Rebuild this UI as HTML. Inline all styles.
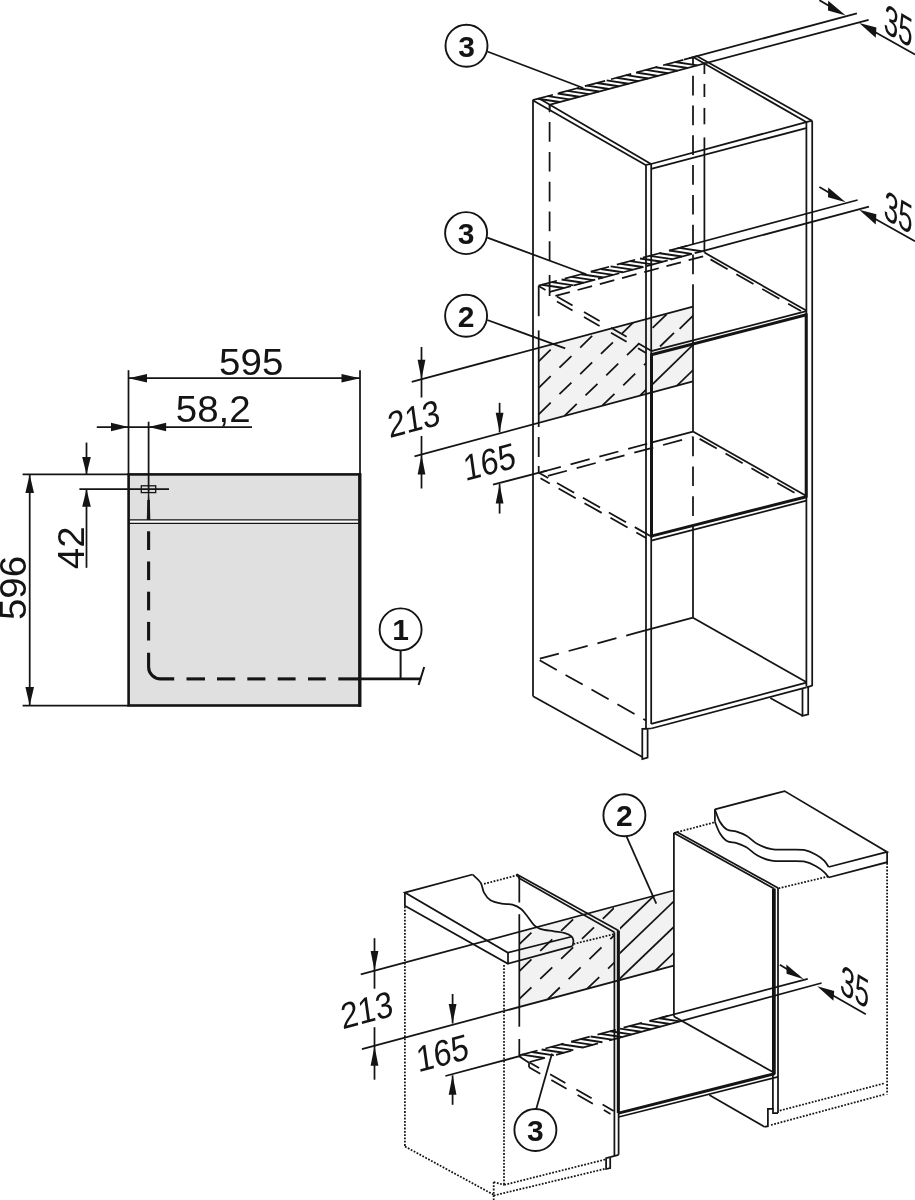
<!DOCTYPE html>
<html><head><meta charset="utf-8"><title>Installation drawing</title>
<style>
html,body{margin:0;padding:0;background:#fff}
svg{display:block;font-family:"Liberation Sans",sans-serif;will-change:transform}
</style></head><body>
<svg width="915" height="1200" viewBox="0 0 915 1200" fill="none" stroke="#141414" stroke-width="1.75">
<rect x="0" y="0" width="915" height="1200" fill="#fff" stroke="none"/>
<rect x="128.6" y="474.4" width="231.4" height="231.1" fill="#e0e0e0" stroke="none"/>
<rect x="128.6" y="520.2" width="231.4" height="2.8" fill="#fff" stroke="none"/>
<line x1="128.6" y1="519.9" x2="360" y2="519.9" stroke-width="1.3"/>
<line x1="128.6" y1="523.3" x2="360" y2="523.3" stroke-width="1.3"/>
<rect x="128.6" y="474.4" width="231.4" height="231.1" fill="none" stroke-width="2.6"/>
<line x1="359.7" y1="473.1" x2="359.7" y2="706.8" stroke-width="3.1"/>
<line x1="128.5" y1="370.2" x2="128.5" y2="474.4" stroke-width="1.75"/>
<line x1="360" y1="370.2" x2="360" y2="474.4" stroke-width="1.75"/>
<line x1="128.5" y1="378.2" x2="360" y2="378.2" stroke-width="1.75"/>
<polygon points="128.5,378.2 147,373.9 147,382.5" fill="#141414" stroke="none"/>
<polygon points="360,378.2 341.5,382.5 341.5,373.9" fill="#141414" stroke="none"/>
<line x1="96.8" y1="427" x2="128.5" y2="427" stroke-width="1.75"/>
<polygon points="128.5,427 111,431.3 111,422.7" fill="#141414" stroke="none"/>
<line x1="128.5" y1="427" x2="252" y2="427" stroke-width="1.75"/>
<polygon points="148.6,427 166.1,422.7 166.1,431.3" fill="#141414" stroke="none"/>
<line x1="148.6" y1="421.7" x2="148.6" y2="493" stroke-width="1.75"/>
<line x1="86.5" y1="442.6" x2="86.5" y2="474.4" stroke-width="1.75"/>
<polygon points="86.5,474.4 82.2,456.9 90.8,456.9" fill="#141414" stroke="none"/>
<line x1="86.5" y1="489.2" x2="86.5" y2="567.8" stroke-width="1.75"/>
<polygon points="86.5,489.2 90.8,506.7 82.2,506.7" fill="#141414" stroke="none"/>
<line x1="22.6" y1="474.4" x2="128.6" y2="474.4" stroke-width="1.75"/>
<line x1="79.4" y1="489.2" x2="169" y2="489.2" stroke-width="1.75"/>
<line x1="29.7" y1="474.4" x2="29.7" y2="705.5" stroke-width="1.75"/>
<polygon points="29.7,474.4 34,492.9 25.4,492.9" fill="#141414" stroke="none"/>
<polygon points="29.7,705.5 25.4,687 34,687" fill="#141414" stroke="none"/>
<line x1="22.6" y1="705.5" x2="128.6" y2="705.5" stroke-width="1.75"/>
<rect x="141.3" y="485.8" width="14.4" height="6.8" fill="none" stroke-width="1.3"/>
<path d="M148.3 493 L147.2 519.5 L150 519.5 L148.9 493Z" fill="#141414" stroke-width="0.6"/>
<line x1="148.6" y1="500" x2="148.6" y2="519.6" stroke-width="2.6"/>
<line x1="148.6" y1="531.3" x2="148.6" y2="550" stroke-width="3.1"/>
<line x1="148.6" y1="561.5" x2="148.6" y2="580.1" stroke-width="3.1"/>
<line x1="148.6" y1="591.7" x2="148.6" y2="610.3" stroke-width="3.1"/>
<line x1="148.6" y1="621.9" x2="148.6" y2="640.5" stroke-width="3.1"/>
<path d="M148.6 652.7 V666.9 A12 12 0 0 0 160.6 678.9 H174.2" fill="none" stroke-width="3.1"/>
<line x1="186.5" y1="678.9" x2="205" y2="678.9" stroke-width="3.1"/>
<line x1="217" y1="678.9" x2="235.2" y2="678.9" stroke-width="3.1"/>
<line x1="247.3" y1="678.9" x2="265.4" y2="678.9" stroke-width="3.1"/>
<line x1="277.7" y1="678.9" x2="295.6" y2="678.9" stroke-width="3.1"/>
<line x1="308" y1="678.9" x2="325.8" y2="678.9" stroke-width="3.1"/>
<line x1="338.3" y1="678.9" x2="360" y2="678.9" stroke-width="3.1"/>
<line x1="360" y1="678.9" x2="421.2" y2="678.9" stroke-width="2.6"/>
<line x1="418.6" y1="685" x2="424.2" y2="667" stroke-width="2"/>
<line x1="400.6" y1="650" x2="400.6" y2="678.9" stroke-width="2"/>
<circle cx="400.6" cy="629.4" r="21" fill="#fff" stroke-width="1.9"/>
<text x="400.6" y="640.3" font-size="30" font-weight="bold" text-anchor="middle" stroke="none" fill="#141414">1</text>
<text transform="translate(251.2 375) scale(1.055 1)" font-size="36.5" text-anchor="middle" stroke="none" fill="#141414">595</text>
<text transform="translate(213.2 421.8) scale(1.055 1)" font-size="36.5" text-anchor="middle" stroke="none" fill="#141414">58,2</text>
<text transform="translate(84 547.8) rotate(-90) scale(1.055 1)" font-size="36.5" text-anchor="middle" stroke="none" fill="#141414">42</text>
<text transform="translate(25.6 588) rotate(-90) scale(1.055 1)" font-size="36.5" text-anchor="middle" stroke="none" fill="#141414">596</text>
<polygon points="538.7,348.3 693,306.6 693,381.2 538.7,422.5" fill="#f2f2f2" stroke="none"/>
<clipPath id="c1"><polygon points="538.7,348.3 646,319.6 646,393.8 538.7,422.5"/></clipPath>
<g clip-path="url(#c1)">
<line x1="538.7" y1="361.3" x2="696.61" y2="208.12" stroke-width="1.75" stroke-dasharray="16.7 12.2"/>
<line x1="538.7" y1="387.8" x2="696.61" y2="234.62" stroke-width="1.75" stroke-dasharray="16.7 12.2"/>
<line x1="538.7" y1="414.3" x2="696.61" y2="261.12" stroke-width="1.75" stroke-dasharray="16.7 12.2"/>
<line x1="564.76" y1="415.53" x2="722.67" y2="262.35" stroke-width="1.75" stroke-dasharray="16.7 12.2"/>
<line x1="602.49" y1="405.43" x2="760.4" y2="252.25" stroke-width="1.75" stroke-dasharray="16.7 12.2"/>
<line x1="640.22" y1="395.33" x2="798.13" y2="242.15" stroke-width="1.75" stroke-dasharray="16.7 12.2"/>
<line x1="677.95" y1="385.23" x2="835.86" y2="232.05" stroke-width="1.75" stroke-dasharray="16.7 12.2"/>
</g>
<clipPath id="c2"><polygon points="651,318.3 693,306.6 693,343.4 651,354.6"/></clipPath>
<g clip-path="url(#c2)">
<line x1="652.6" y1="327.9" x2="666.6" y2="314.32" stroke-width="1.75"/>
<line x1="660" y1="346.5" x2="674" y2="332.92" stroke-width="1.75"/>
<line x1="679.6" y1="328.8" x2="693.6" y2="315.22" stroke-width="1.75"/>
</g>
<clipPath id="c3"><polygon points="652,356 693,345 693,381.2 652,392.2"/></clipPath>
<g clip-path="url(#c3)">
<line x1="640" y1="396.3" x2="726.14" y2="312.75" stroke-width="1.75"/>
<line x1="666" y1="396.3" x2="752.14" y2="312.75" stroke-width="1.75"/>
</g>
<line x1="411.7" y1="381.8" x2="693" y2="306.6" stroke-width="1.75"/>
<line x1="414.5" y1="456.3" x2="693" y2="381.4" stroke-width="1.75"/>
<line x1="493" y1="484.6" x2="547" y2="470.7" stroke-width="1.75"/>
<line x1="421.5" y1="347" x2="421.5" y2="397.5" stroke-width="1.75"/>
<line x1="421.5" y1="436" x2="421.5" y2="488.5" stroke-width="1.75"/>
<polygon points="421.5,379.3 417.6,359.8 425.4,359.8" fill="#141414" stroke="none"/>
<polygon points="421.5,455 425.4,474.5 417.6,474.5" fill="#141414" stroke="none"/>
<line x1="499.6" y1="402.8" x2="499.6" y2="432.3" stroke-width="1.75"/>
<line x1="499.6" y1="484.1" x2="499.6" y2="513.6" stroke-width="1.75"/>
<polygon points="499.6,432.3 495.7,412.8 503.5,412.8" fill="#141414" stroke="none"/>
<polygon points="499.6,484.1 503.5,503.6 495.7,503.6" fill="#141414" stroke="none"/>
<text transform="matrix(0.875 -0.2345 0.143 1.02 389.5 438.2)" font-size="35.5" text-anchor="start" stroke="none" fill="#141414">213</text>
<text transform="matrix(0.875 -0.2345 0.143 1.02 465.2 481.2)" font-size="35.5" text-anchor="start" stroke="none" fill="#141414">165</text>
<line x1="533" y1="100.2" x2="533" y2="696.3" stroke-width="1.75"/>
<line x1="549.6" y1="122.1" x2="549.6" y2="263" stroke-width="1.75" stroke-dasharray="19.7 10.1"/>
<line x1="549.6" y1="275" x2="549.6" y2="296" stroke-width="1.75"/>
<path d="M549 104.6 L550.4 104.6 L550 112 L549.2 112Z" fill="#141414" stroke-width="0.8"/>
<line x1="538.7" y1="285.7" x2="538.7" y2="316.2" stroke-width="1.75"/>
<line x1="538.7" y1="330.4" x2="538.7" y2="427" stroke-width="1.75"/>
<line x1="538.7" y1="437" x2="538.7" y2="457" stroke-width="1.75"/>
<line x1="538.7" y1="466" x2="538.7" y2="472.8" stroke-width="1.75"/>
<line x1="646" y1="165" x2="646" y2="728.9" stroke-width="1.75"/>
<line x1="651.2" y1="164" x2="651.2" y2="724" stroke-width="1.75"/>
<line x1="651.5" y1="353.4" x2="651.5" y2="537.4" stroke-width="3"/>
<line x1="693" y1="57.5" x2="693" y2="289" stroke-width="1.75" stroke-dasharray="19.7 10.1" stroke-dashoffset="11.6"/>
<line x1="693" y1="289" x2="693" y2="431.6" stroke-width="1.75"/>
<line x1="693" y1="431.6" x2="693" y2="525.4" stroke-width="1.75" stroke-dasharray="19.7 10.1" stroke-dashoffset="-5"/>
<line x1="693" y1="525.4" x2="693" y2="617.7" stroke-width="1.75"/>
<line x1="704.4" y1="62.5" x2="704.4" y2="74" stroke-width="1.75"/>
<line x1="704.4" y1="83.9" x2="704.4" y2="97" stroke-width="1.75"/>
<line x1="704.4" y1="107.9" x2="704.4" y2="124.3" stroke-width="1.75"/>
<line x1="704.4" y1="137.4" x2="704.4" y2="252.6" stroke-width="1.75"/>
<line x1="806.4" y1="122.1" x2="806.4" y2="686.4" stroke-width="1.75"/>
<line x1="806.2" y1="313.4" x2="806.2" y2="497.6" stroke-width="3"/>
<line x1="812.2" y1="120.7" x2="812.2" y2="686" stroke-width="1.75"/>
<line x1="532.7" y1="100.2" x2="645.6" y2="165" stroke-width="1.75"/>
<line x1="539.2" y1="98.6" x2="651" y2="164" stroke-width="1.75"/>
<line x1="645.4" y1="165" x2="651.4" y2="163.9" stroke-width="1.75"/>
<line x1="651" y1="164" x2="806.2" y2="122.1" stroke-width="1.75"/>
<line x1="651.2" y1="168.9" x2="806.2" y2="128.1" stroke-width="1.75"/>
<line x1="697.2" y1="56.2" x2="812" y2="120.7" stroke-width="1.75"/>
<line x1="693.9" y1="57.4" x2="806.2" y2="122.1" stroke-width="1.75"/>
<line x1="806" y1="122.2" x2="812.3" y2="120.6" stroke-width="1.75"/>
<line x1="532.7" y1="100.2" x2="697.2" y2="56.11" stroke-width="1.75" stroke-dasharray="21 6"/>
<line x1="684" y1="59.64" x2="856.9" y2="13.3" stroke-width="1.75"/>
<line x1="550.1" y1="104.6" x2="868.6" y2="19.8" stroke-width="1.75"/>
<line x1="538" y1="98.78" x2="559.72" y2="102.04" stroke-width="1.9"/>
<line x1="547.8" y1="96.15" x2="569.57" y2="99.42" stroke-width="1.9"/>
<line x1="557.6" y1="93.53" x2="579.41" y2="96.8" stroke-width="1.9"/>
<line x1="567.4" y1="90.9" x2="589.25" y2="94.18" stroke-width="1.9"/>
<line x1="577.2" y1="88.27" x2="599.09" y2="91.56" stroke-width="1.9"/>
<line x1="587" y1="85.65" x2="608.93" y2="88.94" stroke-width="1.9"/>
<line x1="596.8" y1="83.02" x2="618.78" y2="86.31" stroke-width="1.9"/>
<line x1="606.6" y1="80.39" x2="628.62" y2="83.69" stroke-width="1.9"/>
<line x1="616.4" y1="77.76" x2="638.46" y2="81.07" stroke-width="1.9"/>
<line x1="626.2" y1="75.14" x2="648.3" y2="78.45" stroke-width="1.9"/>
<line x1="636" y1="72.51" x2="658.15" y2="75.83" stroke-width="1.9"/>
<line x1="645.8" y1="69.88" x2="667.99" y2="73.21" stroke-width="1.9"/>
<line x1="655.6" y1="67.26" x2="677.83" y2="70.59" stroke-width="1.9"/>
<line x1="665.4" y1="64.63" x2="687.67" y2="67.97" stroke-width="1.9"/>
<line x1="675.2" y1="62" x2="697.52" y2="65.35" stroke-width="1.9"/>
<line x1="819.4" y1="0.2" x2="840" y2="12.2" stroke-width="1.75"/>
<polygon points="845.7,15.6 828.2,0.8 828,10.6" fill="#141414" stroke="none"/>
<line x1="870" y1="29.3" x2="915" y2="54.6" stroke-width="1.75"/>
<polygon points="859.2,23.1 876.4,27.6 875.7,37.7" fill="#141414" stroke="none"/>
<text transform="matrix(0.73 0.43 -0.07 1.16 883.2 31.4)" font-size="35.5" text-anchor="start" stroke="none" fill="#141414">35</text>
<line x1="819.4" y1="186.9" x2="840" y2="198.9" stroke-width="1.75"/>
<polygon points="845.7,202.3 828.2,187.5 828,197.3" fill="#141414" stroke="none"/>
<line x1="870" y1="216" x2="915" y2="241.3" stroke-width="1.75"/>
<polygon points="859.2,209.8 876.4,214.3 875.7,224.4" fill="#141414" stroke="none"/>
<text transform="matrix(0.73 0.43 -0.07 1.16 883.2 218.1)" font-size="35.5" text-anchor="start" stroke="none" fill="#141414">35</text>
<line x1="538.6" y1="285.7" x2="692.5" y2="244.35" stroke-width="1.75" stroke-dasharray="19 8"/>
<line x1="677" y1="248.52" x2="857.6" y2="200" stroke-width="1.75"/>
<line x1="549.8" y1="291.8" x2="704.5" y2="250.56" stroke-width="1.75" stroke-dasharray="22 3"/>
<line x1="704.5" y1="250.56" x2="869" y2="206.7" stroke-width="1.75"/>
<line x1="551.5" y1="297" x2="704.5" y2="255.96" stroke-width="1.75" stroke-dasharray="15 8" stroke-dashoffset="-4"/>
<line x1="542" y1="284.79" x2="563.83" y2="288.06" stroke-width="1.9"/>
<line x1="551.8" y1="282.15" x2="573.67" y2="285.43" stroke-width="1.9"/>
<line x1="561.6" y1="279.52" x2="583.52" y2="282.81" stroke-width="1.9"/>
<line x1="571.4" y1="276.89" x2="593.37" y2="280.18" stroke-width="1.9"/>
<line x1="581.2" y1="274.26" x2="603.22" y2="277.56" stroke-width="1.9"/>
<line x1="591" y1="271.62" x2="613.07" y2="274.93" stroke-width="1.9"/>
<line x1="600.8" y1="268.99" x2="622.92" y2="272.31" stroke-width="1.9"/>
<line x1="610.6" y1="266.36" x2="632.76" y2="269.68" stroke-width="1.9"/>
<line x1="620.4" y1="263.72" x2="642.61" y2="267.06" stroke-width="1.9"/>
<line x1="630.2" y1="261.09" x2="652.46" y2="264.43" stroke-width="1.9"/>
<line x1="640" y1="258.46" x2="662.31" y2="261.8" stroke-width="1.9"/>
<line x1="649.8" y1="255.83" x2="672.16" y2="259.18" stroke-width="1.9"/>
<line x1="659.6" y1="253.19" x2="682" y2="256.55" stroke-width="1.9"/>
<line x1="669.4" y1="250.56" x2="691.85" y2="253.93" stroke-width="1.9"/>
<line x1="679.2" y1="247.93" x2="701.7" y2="251.3" stroke-width="1.9"/>
<line x1="538.6" y1="285.9" x2="651.2" y2="350.8" stroke-width="1.75" stroke-dasharray="18 13.2" stroke-dashoffset="10"/>
<line x1="549.8" y1="297.4" x2="646" y2="352.9" stroke-width="1.75" stroke-dasharray="18 13.2" stroke-dashoffset="22.95"/>
<line x1="704.5" y1="252.6" x2="806.2" y2="310.6" stroke-width="1.75"/>
<line x1="707" y1="257.4" x2="801" y2="311" stroke-width="1.75" stroke-dasharray="19.7 10.1" stroke-dashoffset="-4"/>
<line x1="651.2" y1="351.1" x2="806.4" y2="311.2" stroke-width="1.75"/>
<line x1="651.2" y1="354.8" x2="806.4" y2="314.8" stroke-width="3"/>
<line x1="538.9" y1="472.8" x2="651.2" y2="442.7" stroke-width="1.75" stroke-dasharray="19.7 10.1" stroke-dashoffset="-3"/>
<line x1="651.2" y1="442.7" x2="693" y2="431.6" stroke-width="1.75"/>
<line x1="545" y1="476.6" x2="692.5" y2="437.1" stroke-width="1.75" stroke-dasharray="19.7 10.1" stroke-dashoffset="-3"/>
<line x1="538.9" y1="472.8" x2="650.8" y2="536.2" stroke-width="1.75" stroke-dasharray="19.7 10.1" stroke-dashoffset="9"/>
<line x1="540.5" y1="478.2" x2="646" y2="538" stroke-width="1.75" stroke-dasharray="19.7 10.1" stroke-dashoffset="9"/>
<line x1="693" y1="431.6" x2="806.4" y2="495.9" stroke-width="1.75"/>
<line x1="697" y1="437.4" x2="801" y2="496.4" stroke-width="1.75" stroke-dasharray="19.7 10.1" stroke-dashoffset="-3"/>
<line x1="651.2" y1="536.1" x2="806.4" y2="496.7" stroke-width="3"/>
<line x1="651.2" y1="540.6" x2="806.4" y2="500.7" stroke-width="1.75"/>
<line x1="537.9" y1="659.2" x2="637" y2="632.7" stroke-width="1.75" stroke-dasharray="19.7 10.1" stroke-dashoffset="-2"/>
<line x1="637" y1="632.7" x2="693" y2="617.7" stroke-width="1.75"/>
<line x1="537.9" y1="659.2" x2="646" y2="720.5" stroke-width="1.75" stroke-dasharray="19.7 10.1" stroke-dashoffset="-2"/>
<line x1="693" y1="617.7" x2="806.2" y2="682" stroke-width="1.75"/>
<line x1="651.2" y1="723.8" x2="806.4" y2="682.6" stroke-width="1.75"/>
<line x1="651.2" y1="728.5" x2="806.4" y2="687.3" stroke-width="1.75"/>
<line x1="806.4" y1="687.3" x2="812.2" y2="685.7" stroke-width="1.75"/>
<line x1="533" y1="696.3" x2="642.3" y2="757" stroke-width="1.75"/>
<path d="M651.2 728.5 L642.3 728.9 L642.3 759.1 L647.6 757.6 L647.6 728.9" fill="none" stroke-width="1.75"/>
<path d="M802.5 688.6 L802.5 715.8 L808.2 714.4 L808.2 686.8" fill="none" stroke-width="1.75"/>
<line x1="770.3" y1="697.9" x2="802.5" y2="715.8" stroke-width="1.75"/>
<line x1="487.3" y1="51.5" x2="583.3" y2="88" stroke-width="1.75"/>
<line x1="487.3" y1="237.6" x2="586.3" y2="274.2" stroke-width="1.75"/>
<line x1="487.3" y1="320" x2="565.2" y2="348.4" stroke-width="1.75"/>
<circle cx="466.5" cy="45.8" r="21" fill="#fff" stroke-width="1.9"/>
<text x="466.5" y="56.7" font-size="30" font-weight="bold" text-anchor="middle" stroke="none" fill="#141414">3</text>
<circle cx="466.1" cy="233.1" r="21" fill="#fff" stroke-width="1.9"/>
<text x="466.1" y="244" font-size="30" font-weight="bold" text-anchor="middle" stroke="none" fill="#141414">3</text>
<circle cx="466.1" cy="315.7" r="21" fill="#fff" stroke-width="1.9"/>
<text x="466.1" y="326.6" font-size="30" font-weight="bold" text-anchor="middle" stroke="none" fill="#141414">2</text>
<polygon points="519.4,931.7 673.8,890.4 673.8,965.6 519.4,1006.6" fill="#f2f2f2" stroke="none"/>
<clipPath id="c4"><polygon points="519.4,931.7 614,906.4 614,981.5 519.4,1006.6"/></clipPath>
<g clip-path="url(#c4)">
<line x1="519.4" y1="944.1" x2="678.11" y2="791.74" stroke-width="1.75" stroke-dasharray="16.7 12.2"/>
<line x1="519.4" y1="971" x2="678.11" y2="818.64" stroke-width="1.75" stroke-dasharray="16.7 12.2"/>
<line x1="519.4" y1="998.9" x2="678.11" y2="846.54" stroke-width="1.75" stroke-dasharray="16.7 12.2"/>
<line x1="547.77" y1="999.07" x2="706.47" y2="846.71" stroke-width="1.75" stroke-dasharray="16.7 12.2"/>
<line x1="587.22" y1="988.59" x2="745.93" y2="836.23" stroke-width="1.75" stroke-dasharray="16.7 12.2"/>
</g>
<clipPath id="c5"><polygon points="620,904.8 673.8,890.4 673.8,965.6 620,979.9"/></clipPath>
<g clip-path="url(#c5)">
<line x1="601.1" y1="946.6" x2="745.38" y2="808.09" stroke-width="1.75"/>
<line x1="601.1" y1="971.1" x2="745.38" y2="832.59" stroke-width="1.75"/>
<line x1="601.1" y1="996.7" x2="745.38" y2="858.19" stroke-width="1.75"/>
<line x1="601.1" y1="1022.6" x2="745.38" y2="884.09" stroke-width="1.75"/>
</g>
<line x1="360.8" y1="974.4" x2="673.8" y2="890.5" stroke-width="1.75"/>
<line x1="361.9" y1="1049.1" x2="673.8" y2="965.6" stroke-width="1.75"/>
<line x1="445.4" y1="1076" x2="521.4" y2="1055.7" stroke-width="1.75"/>
<line x1="374.5" y1="938.2" x2="374.5" y2="988.7" stroke-width="1.75"/>
<line x1="374.5" y1="1027.2" x2="374.5" y2="1079.7" stroke-width="1.75"/>
<polygon points="374.5,970.5 370.6,951 378.4,951" fill="#141414" stroke="none"/>
<polygon points="374.5,1046.2 378.4,1065.7 370.6,1065.7" fill="#141414" stroke="none"/>
<line x1="452.6" y1="994" x2="452.6" y2="1023.5" stroke-width="1.75"/>
<line x1="452.6" y1="1075.3" x2="452.6" y2="1104.8" stroke-width="1.75"/>
<polygon points="452.6,1023.5 448.7,1004 456.5,1004" fill="#141414" stroke="none"/>
<polygon points="452.6,1075.3 456.5,1094.8 448.7,1094.8" fill="#141414" stroke="none"/>
<text transform="matrix(0.875 -0.2345 0.143 1.02 342.5 1029.4)" font-size="35.5" text-anchor="start" stroke="none" fill="#141414">213</text>
<text transform="matrix(0.875 -0.2345 0.143 1.02 418.2 1072.4)" font-size="35.5" text-anchor="start" stroke="none" fill="#141414">165</text>
<line x1="404.9" y1="906.5" x2="404.9" y2="1146.5" stroke-width="1.75" stroke-dasharray="1.8 1.5"/>
<line x1="504" y1="965" x2="504" y2="1184.9" stroke-width="1.75" stroke-dasharray="1.8 1.5"/>
<line x1="484" y1="883.9" x2="517" y2="875.3" stroke-width="1.75" stroke-dasharray="1.8 1.5"/>
<line x1="573.5" y1="944" x2="613.7" y2="934.2" stroke-width="1.75" stroke-dasharray="1.8 1.5"/>
<line x1="405" y1="1146.5" x2="493.7" y2="1194.8" stroke-width="1.75" stroke-dasharray="1.8 1.5"/>
<line x1="493.7" y1="1182" x2="493.7" y2="1200" stroke-width="1.75" stroke-dasharray="1.8 1.5"/>
<line x1="493.7" y1="1182" x2="504.2" y2="1184.9" stroke-width="1.75" stroke-dasharray="1.8 1.5"/>
<line x1="504.2" y1="1184.9" x2="606" y2="1159.3" stroke-width="1.75" stroke-dasharray="1.8 1.5"/>
<line x1="493.7" y1="1195.5" x2="606" y2="1168.6" stroke-width="1.75" stroke-dasharray="1.8 1.5"/>
<path d="M472.6 874.5 C473.95 875.88 478.8 879.78 480.7 882.8 C482.6 885.82 482.37 889.68 484 892.6 C485.63 895.52 487.58 898.47 490.5 900.3 C493.42 902.13 497.85 902.88 501.5 903.6 C505.15 904.32 509.13 903.7 512.4 904.6 C515.67 905.5 518.55 906.98 521.1 909 C523.65 911.02 525.5 913.97 527.7 916.7 C529.9 919.43 532.12 923.33 534.3 925.4 C536.48 927.47 537.53 928.12 540.8 929.1 C544.07 930.08 549.88 930.63 553.9 931.3 C557.92 931.97 561.98 932.27 564.9 933.1 C567.82 933.93 569.98 935.03 571.4 936.3 C572.82 937.57 573.22 939.05 573.4 940.7 C573.58 942.35 572.65 945.28 572.5 946.2" fill="none" stroke-width="1.75"/>
<path d="M472.6 874.5 L404.9 892.6 L508 952.7 L572.3 936.5" fill="none" stroke-width="1.75"/>
<path d="M404.9 892.6 L404.9 905.7 L508 963.7 L572.5 946.2" fill="none" stroke-width="1.75"/>
<line x1="508" y1="952.7" x2="508" y2="963.7" stroke-width="1.75"/>
<line x1="516.6" y1="874.2" x2="618.4" y2="930.6" stroke-width="1.75"/>
<line x1="519.3" y1="878.3" x2="614.4" y2="932.3" stroke-width="1.75"/>
<line x1="516.6" y1="874.2" x2="519.3" y2="878.3" stroke-width="1.75"/>
<line x1="519.3" y1="876.5" x2="519.3" y2="902.5" stroke-width="1.75"/>
<line x1="519.3" y1="914.2" x2="519.3" y2="1026.7" stroke-width="1.75"/>
<line x1="614.4" y1="932.3" x2="614.4" y2="1155.9" stroke-width="1.75"/>
<line x1="618.6" y1="930.6" x2="618.6" y2="1154.8" stroke-width="1.75"/>
<line x1="618.3" y1="930.6" x2="618.3" y2="1113" stroke-width="3"/>
<path d="M618.6 1154.8 L606.1 1158.2 L606.1 1169 L610.2 1168 L610.2 1157.2" fill="none" stroke-width="1.75"/>
<line x1="673.9" y1="833" x2="673.9" y2="1016.4" stroke-width="1.75"/>
<line x1="673.9" y1="833" x2="774.3" y2="888.7" stroke-width="1.75"/>
<line x1="677.3" y1="832.2" x2="778" y2="887.9" stroke-width="1.75"/>
<line x1="673.9" y1="833" x2="677.3" y2="832.2" stroke-width="1.75"/>
<line x1="772.9" y1="888.9" x2="772.9" y2="1108.9" stroke-width="1.75"/>
<line x1="778" y1="888" x2="778" y2="1113" stroke-width="1.75"/>
<line x1="773.9" y1="888.6" x2="773.9" y2="1074" stroke-width="3.7"/>
<line x1="673.9" y1="833" x2="714.3" y2="822.4" stroke-width="1.75" stroke-dasharray="1.8 1.5"/>
<line x1="778.5" y1="888.3" x2="828.6" y2="876.4" stroke-width="1.75" stroke-dasharray="1.8 1.5"/>
<line x1="887.1" y1="863" x2="887.1" y2="1094.4" stroke-width="1.75" stroke-dasharray="1.8 1.5"/>
<line x1="779.8" y1="1110.6" x2="884.4" y2="1083.3" stroke-width="1.75" stroke-dasharray="1.8 1.5"/>
<line x1="771" y1="1125" x2="884.4" y2="1094.4" stroke-width="1.75" stroke-dasharray="1.8 1.5"/>
<path d="M714.9 809.3 C715.73 811.38 717.9 818.42 719.9 821.8 C721.9 825.18 724.12 827.97 726.9 829.6 C729.68 831.23 733.35 830.58 736.6 831.6 C739.85 832.62 742.92 833.62 746.4 835.7 C749.88 837.78 753.32 841.87 757.5 844.1 C761.68 846.33 766.38 848.17 771.5 849.1 C776.62 850.03 782.63 849.52 788.2 849.7 C793.77 849.88 800.25 849.37 804.9 850.2 C809.55 851.03 812.85 852.93 816.1 854.7 C819.35 856.47 822.32 858.75 824.4 860.8 C826.48 862.85 827.9 865.97 828.6 867" fill="none" stroke-width="1.75"/>
<path d="M714.9 821.8 C715.73 823.72 717.9 830.08 719.9 833.3 C721.9 836.52 724.12 839.47 726.9 841.1 C729.68 842.73 733.35 842.08 736.6 843.1 C739.85 844.12 742.92 845.12 746.4 847.2 C749.88 849.28 753.32 853.37 757.5 855.6 C761.68 857.83 766.38 859.67 771.5 860.6 C776.62 861.53 782.63 861.02 788.2 861.2 C793.77 861.38 800.25 860.87 804.9 861.7 C809.55 862.53 812.85 864.43 816.1 866.2 C819.35 867.97 822.32 870.42 824.4 872.3 C826.48 874.18 827.9 876.63 828.6 877.5" fill="none" stroke-width="1.75"/>
<line x1="714.9" y1="809.3" x2="714.9" y2="821.8" stroke-width="1.75"/>
<path d="M714.9 809.3 L784.6 791.1 L887.1 851.9 L828.6 867" fill="none" stroke-width="1.75"/>
<path d="M887.1 851.9 L887.1 862.2 L828.6 877.5" fill="none" stroke-width="1.75"/>
<line x1="519.2" y1="1055.4" x2="673.8" y2="1014.35" stroke-width="1.75" stroke-dasharray="19 8"/>
<line x1="660" y1="1018.02" x2="807.7" y2="978.8" stroke-width="1.75"/>
<line x1="529.5" y1="1062" x2="614.4" y2="1039.04" stroke-width="1.75" stroke-dasharray="16 11.5"/>
<line x1="614.4" y1="1039.04" x2="821.6" y2="983" stroke-width="1.75"/>
<line x1="522" y1="1054.66" x2="544.29" y2="1058" stroke-width="1.9"/>
<line x1="531.8" y1="1052.05" x2="553.97" y2="1055.38" stroke-width="1.9"/>
<line x1="541.6" y1="1049.45" x2="563.66" y2="1052.76" stroke-width="1.9"/>
<line x1="551.4" y1="1046.85" x2="573.34" y2="1050.14" stroke-width="1.9"/>
<line x1="561.2" y1="1044.25" x2="583.03" y2="1047.52" stroke-width="1.9"/>
<line x1="571" y1="1041.65" x2="592.71" y2="1044.9" stroke-width="1.9"/>
<line x1="580.8" y1="1039.04" x2="602.4" y2="1042.28" stroke-width="1.9"/>
<line x1="590.6" y1="1036.44" x2="612.08" y2="1039.66" stroke-width="1.9"/>
<line x1="600.4" y1="1033.84" x2="621.77" y2="1037.05" stroke-width="1.9"/>
<line x1="610.2" y1="1031.24" x2="631.45" y2="1034.43" stroke-width="1.9"/>
<line x1="620" y1="1028.64" x2="641.14" y2="1031.81" stroke-width="1.9"/>
<line x1="629.8" y1="1026.03" x2="650.82" y2="1029.19" stroke-width="1.9"/>
<line x1="639.6" y1="1023.43" x2="660.51" y2="1026.57" stroke-width="1.9"/>
<line x1="649.4" y1="1020.83" x2="670.19" y2="1023.95" stroke-width="1.9"/>
<line x1="659.2" y1="1018.23" x2="679.88" y2="1021.33" stroke-width="1.9"/>
<line x1="519.3" y1="1039" x2="519.3" y2="1056.2" stroke-width="1.75"/>
<path d="M519.1 1056.2 L529 1062.8 L529 1067.2" fill="none" stroke-width="1.75"/>
<line x1="530" y1="1062.7" x2="613.7" y2="1110.9" stroke-width="1.75" stroke-dasharray="17.6 12.7" stroke-dashoffset="7.1"/>
<line x1="529" y1="1067.2" x2="610.5" y2="1113.9" stroke-width="1.75" stroke-dasharray="17.6 12.7" stroke-dashoffset="4.6"/>
<line x1="673.9" y1="1016.4" x2="772.9" y2="1072.1" stroke-width="1.75"/>
<line x1="618.6" y1="1113.1" x2="775" y2="1073.6" stroke-width="3"/>
<line x1="618.6" y1="1117" x2="778" y2="1076.8" stroke-width="1.75"/>
<line x1="709.3" y1="1095.1" x2="764.4" y2="1126.8" stroke-width="1.75"/>
<path d="M778 1113 L773 1113 L773 1108.9 L767.9 1108.9 L767.9 1126.2 L764.4 1126.8" fill="none" stroke-width="1.75"/>
<line x1="779.8" y1="964.8" x2="799" y2="976.2" stroke-width="1.75"/>
<polygon points="803.8,979.2 786.3,964.4 786.6,973.8" fill="#141414" stroke="none"/>
<line x1="827" y1="992" x2="865.8" y2="1014.2" stroke-width="1.75"/>
<polygon points="817.2,986.2 834.2,991 833.4,1000.8" fill="#141414" stroke="none"/>
<text transform="matrix(0.73 0.43 -0.07 1.16 839.5 992.4)" font-size="35.5" text-anchor="start" stroke="none" fill="#141414">35</text>
<line x1="626.6" y1="836.6" x2="656.3" y2="903.6" stroke-width="1.75"/>
<circle cx="624.4" cy="815.2" r="21" fill="#fff" stroke-width="1.9"/>
<text x="624.4" y="826.1" font-size="30" font-weight="bold" text-anchor="middle" stroke="none" fill="#141414">2</text>
<line x1="536.3" y1="1108.7" x2="552" y2="1053.4" stroke-width="1.75"/>
<circle cx="535.4" cy="1130" r="21" fill="#fff" stroke-width="1.9"/>
<text x="535.4" y="1140.9" font-size="30" font-weight="bold" text-anchor="middle" stroke="none" fill="#141414">3</text>
</svg>
</body></html>
